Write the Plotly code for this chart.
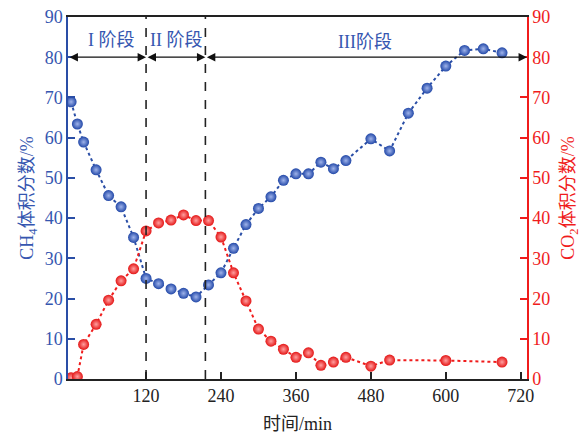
import plotly.graph_objects as go

# ---- data ----
t_ch4 = [0, 10, 20, 40, 60, 80, 100, 120, 140, 160, 180, 200, 220, 240, 260, 280,
         300, 320, 340, 360, 380, 400, 420, 440, 480, 510, 540, 570, 600, 630, 660, 690]
ch4 = [68.9, 63.4, 58.9, 52.0, 45.6, 42.8, 35.2, 25.0, 23.7, 22.4, 21.3, 20.4, 23.4, 26.4,
       32.5, 38.4, 42.4, 45.3, 49.4, 51.0, 51.0, 53.9, 52.3, 54.3, 59.7, 56.7, 66.1, 72.3,
       77.8, 81.7, 82.1, 81.1]

t_co2 = [0, 10, 20, 40, 60, 80, 100, 120, 140, 160, 180, 200, 220, 240, 260, 280,
         300, 320, 340, 360, 380, 400, 420, 440, 480, 510, 600, 690]
co2 = [0.3, 0.6, 8.6, 13.6, 19.6, 24.4, 27.4, 36.8, 38.8, 39.5, 40.8, 39.4, 39.4, 35.3,
       26.4, 19.4, 12.4, 9.4, 7.4, 5.4, 6.5, 3.4, 4.2, 5.4, 3.2, 4.7, 4.6, 4.2]

x_ticks = [120, 240, 360, 480, 600, 720]
y_ticks = [0, 10, 20, 30, 40, 50, 60, 70, 80, 90]
x_range = [-5, 730]
stage_bounds = [-5, 120, 215, 730]
stage_labels = ["I 阶段", "II 阶段", "III阶段"]
stage_label_x = [65, 169, 470]
stage_label_y = [84.3, 84.3, 83.7]
arrow_level = 80

BLUE = "#2a4ea6"
BLUE_TXT = "#3556b0"
RED = "#f01c1c"
FONT = "Liberation Serif, Noto Sans CJK SC, serif"

fig = go.Figure()
fig.add_trace(go.Scatter(
    x=t_ch4, y=ch4, mode="lines+markers",
    line=dict(color=BLUE, width=2, dash="dot"),
    marker=dict(size=11, color="#2248a8", line=dict(width=0),
                gradient=dict(type="radial", color="#9fb3ea")),
    showlegend=False, yaxis="y"))
fig.add_trace(go.Scatter(
    x=t_co2, y=co2, mode="lines+markers",
    line=dict(color=RED, width=2, dash="dot"),
    marker=dict(size=11, color="#e41515", line=dict(width=0),
                gradient=dict(type="radial", color="#ffa0a0")),
    showlegend=False, yaxis="y2"))

# stage boundaries (dashed)
for xb in stage_bounds[1:3]:
    fig.add_shape(type="line", xref="x", yref="y", x0=xb, x1=xb, y0=0, y1=90,
                  line=dict(color="#222222", width=1.6, dash="dash"))

# double-headed arrows and stage labels
for i in range(3):
    fig.add_annotation(x=stage_bounds[i + 1], y=arrow_level, ax=stage_bounds[i], ay=arrow_level,
                       xref="x", yref="y", axref="x", ayref="y", text="",
                       showarrow=True, arrowhead=2, arrowside="end+start",
                       arrowsize=1.3, arrowwidth=1.3, arrowcolor="#111111",
                       standoff=0, startstandoff=0)
    fig.add_annotation(x=stage_label_x[i], y=stage_label_y[i], xref="x", yref="y",
                       text=stage_labels[i], showarrow=False,
                       font=dict(family=FONT, size=18, color=BLUE_TXT))

fig.update_layout(
    width=587, height=436,
    margin=dict(l=68, r=60, t=17, b=57),
    plot_bgcolor="white", paper_bgcolor="white",
    font=dict(family=FONT, size=18),
    xaxis=dict(range=x_range, tickvals=x_ticks, ticks="inside", ticklen=7, tickwidth=1.5,
               tickcolor="#222222", showline=True, linecolor="#222222", linewidth=1.5,
               mirror=True, showgrid=False, zeroline=False, automargin=False,
               tickfont=dict(family=FONT, size=18, color="#222222"),
               title=dict(text="时间/min", font=dict(family=FONT, size=18, color="#222222"),
                          standoff=12)),
    yaxis=dict(range=[0, 90], tickvals=y_ticks, ticks="inside", ticklen=7, tickwidth=1.5,
               tickcolor=BLUE, showline=True, linecolor=BLUE, linewidth=1.5,
               showgrid=False, zeroline=False, automargin=False,
               tickfont=dict(family=FONT, size=18, color=BLUE_TXT),
               title=dict(text="CH<sub>4</sub>体积分数/%", font=dict(family=FONT, size=18, color=BLUE_TXT),
                          standoff=6)),
    yaxis2=dict(range=[0, 90], tickvals=y_ticks, ticks="inside", ticklen=7, tickwidth=1.5,
                tickcolor=RED, showline=True, linecolor=RED, linewidth=1.5,
                overlaying="y", side="right", showgrid=False, zeroline=False, automargin=False,
                tickfont=dict(family=FONT, size=18, color=RED),
                title=dict(text="CO<sub>2</sub>体积分数/%", font=dict(family=FONT, size=18, color=RED),
                           standoff=12)),
)

fig.write_html("out.html")
